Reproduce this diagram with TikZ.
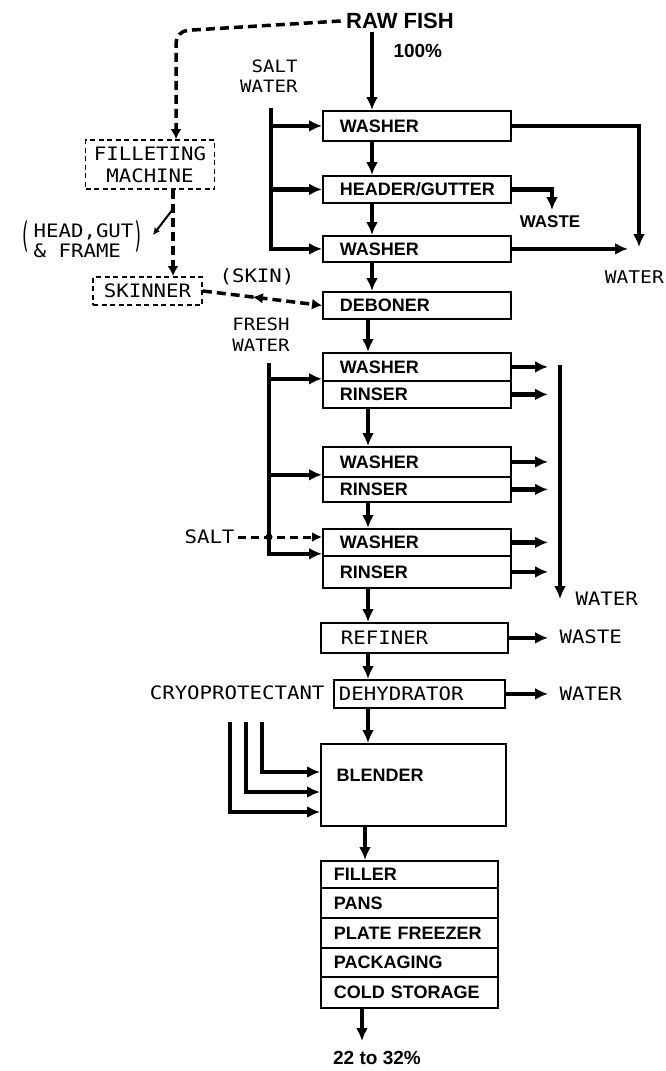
\documentclass[tikz,border=0pt]{standalone}
\usepackage{fontspec}
\setmainfont{Liberation Sans}
\newfontfamily\lett{DejaVu Sans Mono}[FakeStretch=1.12]
\usetikzlibrary{arrows.meta,decorations.markings}
\begin{document}
\begin{tikzpicture}[x=1pt,y=-1pt,
  bf/.style={font=\fontsize{18}{20}\selectfont\bfseries},
  lt/.style={font=\lett\fontsize{18.5}{21}\selectfont},
  stage/.style={draw, line width=1.8pt, anchor=north west, inner ysep=0pt, align=left, bf},
  dbox/.style={draw, line width=1.8pt, dash pattern=on 5pt off 3.5pt, inner sep=0pt, lt, align=center},
  flow/.style={line width=4.5pt, -{Latex[length=13pt,width=12pt]}},
  dashflow/.style={line width=3.5pt, dash pattern=on 9pt off 5pt, -{Latex[length=10pt,width=11pt]}},
  thinflow/.style={line width=2pt, -{Latex[length=7pt,width=7pt]}}
]
\fill[white] (0,0) rectangle (665,1071);
\useasboundingbox (0,0) rectangle (665,1071);

% ---------- top ----------
\node[font=\fontsize{22}{24}\selectfont\bfseries] (raw) at (400,21) {RAW FISH};
\node[anchor=west, font=\fontsize{19}{20}\selectfont\bfseries] (p100) at (390,51) {100\%};
\node[lt, align=right, anchor=east, font=\lett\fontsize{17}{20}\selectfont] (saltw) at (301,76) {SALT\\WATER};

% ---------- salt water section ----------
\node[stage, minimum height=30pt, text width=154pt, inner xsep=17pt] (w1) at (322,110) {WASHER};
\node[stage, minimum height=27pt, text width=154pt, inner xsep=17pt] (hg) at (322,175) {HEADER/GUTTER};
\node[stage, minimum height=26pt, text width=154pt, inner xsep=17pt] (w2) at (322,235) {WASHER};
\node[stage, minimum height=27pt, text width=154pt, inner xsep=17pt] (deb) at (322,291) {DEBONER};

\draw[flow] ([xshift=-28pt]raw.south) -- ([xshift=50pt]w1.north west);
\draw[flow] ([xshift=50pt]w1.south west) -- ([xshift=50pt]hg.north west);
\draw[flow] ([xshift=50pt]hg.south west) -- ([xshift=50pt]w2.north west);
\draw[flow] ([xshift=50pt]w2.south west) -- ([xshift=50pt]deb.north west);

\coordinate (swtop) at (271,108);
\draw[flow] (swtop) |- (w2.west);
\draw[flow] (swtop |- w1.west) -- (w1.west);
\draw[flow] (swtop |- hg.west) -- (hg.west);

\coordinate (wat1) at (639,247);
\draw[flow] (w1.east) -| (wat1);
\coordinate (was1) at (552,210);
\draw[flow] (hg.east) -| (was1);
\node[font=\fontsize{17}{18}\selectfont\bfseries] (waste1) at (550,222) {WASTE};
\coordinate (wat2) at (628,0);
\draw[flow] (w2.east) -- (w2.east -| wat2);
\node[lt, anchor=east, inner sep=0pt, font=\lett\fontsize{17.5}{20}\selectfont] (water1) at (664,277) {WATER};

% ---------- filleting path ----------
\node[dbox, minimum width=129pt, minimum height=49pt, font=\lett\fontsize{18.5}{22}\selectfont] (fil) at (150,164.5) {FILLETING\\MACHINE};
\coordinate (fc) at (176,31);
\draw[dashflow, rounded corners=12pt] ([xshift=-2pt]raw.west) -- (fc) -- (fil.north -| fc);
\node[dbox, minimum width=109pt, minimum height=28pt] (skn) at (147.5,291) {SKINNER};
\coordinate (fx) at (173,0);
\draw[dashflow] (fil.south -| fx) -- (skn.north -| fx);

\node[lt, inner sep=0pt, font=\lett\fontsize{18.5}{20}\selectfont] (hgf) at (82,242)
  {\scalebox{0.8}[1.9]{(}\,\begin{tabular}{@{}l@{}}HEAD,GUT\\\& FRAME\end{tabular}\scalebox{0.8}[1.9]{)}};
\coordinate (hgfp) at (173,209);
\coordinate (hgft) at (153,235);
\draw[thinflow] (hgfp) -- (hgft);

\node[lt] (skl) at (257,277) {(SKIN)};
\draw[dashflow, postaction={decorate},
  decoration={markings, mark=at position 0.42 with {\arrowreversed{Latex[length=10pt,width=11pt]}}}]
  (skn.east) -- (deb.west);

% ---------- fresh water section ----------
\node[lt, align=center, font=\lett\fontsize{17}{21}\selectfont] (fwl) at (261,335) {FRESH\\WATER};
\node[stage, minimum height=28pt, text width=154pt, inner xsep=17pt] (fw1) at (322,352) {WASHER};
\node[stage, minimum height=27pt, text width=154pt, inner xsep=17pt] (fr1) at (322,380) {RINSER};
\node[stage, minimum height=30pt, text width=154pt, inner xsep=17pt] (fw2) at (322,446) {WASHER};
\node[stage, minimum height=25pt, text width=154pt, inner xsep=17pt] (fr2) at (322,476) {RINSER};
\node[stage, minimum height=27pt, text width=154pt, inner xsep=17pt] (fw3) at (322,528) {WASHER};
\node[stage, minimum height=32pt, text width=154pt, inner xsep=17pt] (fr3) at (322,555) {RINSER};

\coordinate (cx) at (368,0);
\draw[flow] (deb.south -| cx) -- (fw1.north -| cx);
\draw[flow] (fr1.south -| cx) -- (fw2.north -| cx);
\draw[flow] (fr2.south -| cx) -- (fw3.north -| cx);

\coordinate (fwtop) at (269,363);
\coordinate (fa1) at ([yshift=3pt]fw1.south west);
\coordinate (fa2) at ([yshift=3pt]fw2.south west);
\coordinate (fa3) at ([yshift=3pt]fw3.south west);
\draw[flow] (fwtop) |- (fa3);
\draw[flow] (fwtop |- fa1) -- (fa1);
\draw[flow] (fwtop |- fa2) -- (fa2);

\node[lt, anchor=east] (salt) at (238,537) {SALT};
\draw[line width=3pt, dash pattern=on 8pt off 5pt, -{Latex[length=10pt,width=10pt]}] (salt.east) -- (salt.east -| fw3.west);
\fill (salt.east -| fwtop) circle (3.5pt);

\coordinate (rx) at (548,0);
\foreach \n in {fw1,fr1,fw2,fr2,fw3,fr3} \draw[flow] (\n.east) -- (\n.east -| rx);
\coordinate (rvt) at (560,365);
\coordinate (rvb) at (560,599);
\draw[flow] (rvt) -- (rvb);
\node[lt, anchor=west] (water2) at (572,599) {WATER};

% ---------- refiner / dehydrator ----------
\node[stage, minimum height=30pt, text width=147pt, inner xsep=20pt, lt] (ref) at (320,622) {REFINER};
\node[stage, minimum height=28pt, text width=161pt, inner xsep=5pt, lt] (deh) at (333,679) {DEHYDRATOR};
\draw[flow] (fr3.south -| cx) -- (ref.north -| cx);
\draw[flow] (ref.south -| cx) -- (deh.north -| cx);
\draw[flow] (ref.east) -- (ref.east -| rx);
\node[lt, anchor=west] (waste2) at (556,637) {WASTE};
\draw[flow] (deh.east) -- (deh.east -| rx);
\node[lt, anchor=west] (water3) at (556,694) {WATER};

\node[lt, anchor=east] (cryo) at (328,693) {CRYOPROTECTANT};

% ---------- blender ----------
\node[draw, line width=1.8pt, anchor=north west, minimum width=185pt, minimum height=82pt, inner sep=0pt] (bl) at (320,743) {};
\node[bf, anchor=west] (bll) at (333,775) {BLENDER};
\draw[flow] (deh.south -| cx) -- (bl.north -| cx);

\coordinate (c1) at (262,722);
\coordinate (c2) at (246,722);
\coordinate (c3) at (230,722);
\coordinate (b1) at (bl.west |- 0,772);
\coordinate (b2) at (bl.west |- 0,792);
\coordinate (b3) at (bl.west |- 0,812);
\draw[flow] (c1) |- (b1);
\draw[flow] (c2) |- (b2);
\draw[flow] (c3) |- (b3);

% ---------- final stack ----------
\node[stage, minimum height=27pt, text width=151pt, inner xsep=13pt] (fill) at (320,860) {FILLER};
\node[stage, minimum height=30pt, text width=151pt, inner xsep=13pt] (pans) at (320,887) {PANS};
\node[stage, minimum height=30pt, text width=151pt, inner xsep=13pt] (pf) at (320,917) {PLATE FREEZER};
\node[stage, minimum height=29pt, text width=151pt, inner xsep=13pt] (pack) at (320,947) {PACKAGING};
\node[stage, minimum height=31pt, text width=151pt, inner xsep=13pt] (cold) at (320,976) {COLD STORAGE};

\coordinate (sx) at (365,0);
\draw[flow] (bl.south -| sx) -- (fill.north -| sx);
\coordinate (outp) at (362,1041);
\draw[flow] (cold.south -| outp) -- (outp);
\node[font=\fontsize{19}{20}\selectfont\bfseries] (res) at (377,1058) {22 to 32\%};
\end{tikzpicture}
\end{document}
